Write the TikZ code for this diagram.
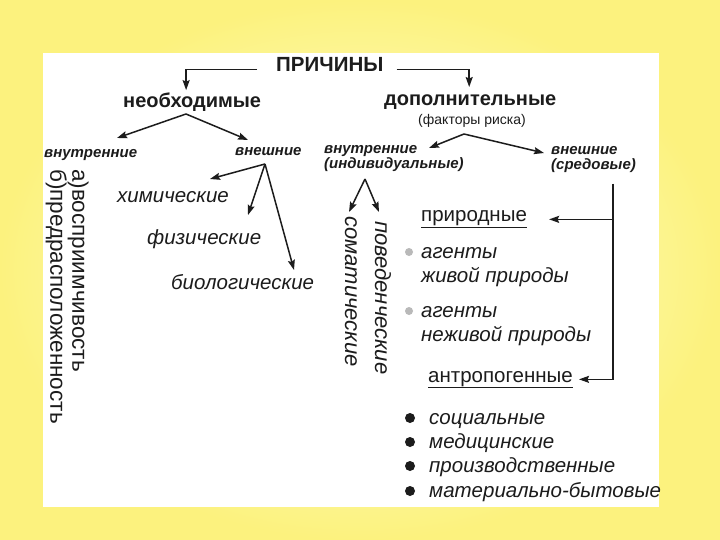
\documentclass[tikz,border=0pt]{standalone}
\usepackage{fontspec}
\setmainfont{Liberation Sans}
\usetikzlibrary{arrows.meta, positioning, calc}
\definecolor{inkdark}{HTML}{1C1C1C}
\definecolor{dotgrey}{HTML}{B9B9B9}
\definecolor{glowin}{HTML}{FFFFE2}
\definecolor{glowout}{HTML}{FCF27E}

\tikzset{
  lbl/.style={inner sep=0pt, text=inkdark, anchor=base west},
  head/.style={lbl, font=\bfseries\fontsize{20}{24}\selectfont},
  tag/.style={lbl, font=\bfseries\itshape\fontsize{15}{15}\selectfont, align=left},
  kind/.style={lbl, font=\itshape\fontsize{20.5}{24}\selectfont},
  plain/.style={lbl, font=\fontsize{20.5}{24}\selectfont},
  side/.style={lbl, rotate=-90, font=\fontsize{22.5}{20}\selectfont},
  dotg/.style={circle, fill=dotgrey, inner sep=0pt, minimum size=8pt},
  dotb/.style={circle, fill=inkdark, inner sep=0pt, minimum size=10pt},
  arr/.style={draw=inkdark, line width=1.5pt, -{Stealth[length=10pt,width=7pt,inset=1.5pt]}},
}

\begin{document}
\begin{tikzpicture}[x=1pt, y=-1pt]
  \useasboundingbox (0,0) rectangle (720,540);
  \shade[inner color=glowin, outer color=glowout] (0,0) rectangle (720,540);
  \fill[white] (43,53) rectangle (659,507);

  % top level
  \node[head, font=\bfseries\fontsize{20.5}{24}\selectfont] (causes) at (276,72) {ПРИЧИНЫ};
  \node[head] (need) at (123,108) {необходимые};
  \node[head] (extra) at (384,106) {дополнительные};
  \node[lbl, anchor=base, font=\fontsize{14}{16}\selectfont] (risk) at (472,125) {(факторы риска)};

  \node[tag] (needin) at (44,158) {внутренние};
  \node[tag] (needout) at (235,156) {внешние};
  \node[tag, anchor=north west] (extrain) at (324,145) {внутренние\\(индивидуальные)};
  \node[tag, anchor=north west] (extraout) at (551,146) {внешние\\(средовые)};

  % left branch
  \node[kind] (chem) at (117,203) {химические};
  \node[kind] (phys) at (147,244) {физические};
  \node[kind] (bio) at (171,289) {биологические};
  \node[side, anchor=north west, align=left] (innate) at (89,169) {а)восприимчивость\\б)предрасположенность};

  % right branch
  \node[side, font=\itshape\fontsize{22}{20}\selectfont] (soma) at (345,216) {соматические};
  \node[side, font=\itshape\fontsize{22}{20}\selectfont] (behav) at (375,221) {поведенческие};
  \node[plain] (natural) at (421,222) {\underline{природные}};
  \node[plain] (anthro) at (428,382) {\underline{антропогенные}};

  \foreach \y/\txt [count=\i] in {247/живой природы, 306/неживой природы}{%
    \node[dotg] (agdot\i) at (409,\y+5) {};
    \node[kind, anchor=north west, align=left] (agent\i) at (421,\y) {агенты\\\txt};}

  \foreach \y/\txt [count=\i] in {418/социальные, 442/медицинские,
                                  466/производственные, 491/материально-бытовые}{%
    \node[dotb] (hdot\i) at (410,\y) {};
    \node[kind] (human\i) at (429,\y+6) {\txt};}

  % connectors
  \draw[arr] ([xshift=-19pt]causes.mid west) -| ([xshift=-6pt,yshift=3pt]need.north);
  \draw[arr] ([xshift=13pt]causes.mid east) -| ([xshift=-1pt,yshift=8pt]extra.north);

  \coordinate (needfork) at (186,114);
  \coordinate (extrafork) at (464,134);
  \coordinate (outfork) at (265,164);
  \coordinate (infork) at (365,179);
  \coordinate (bus) at (613,184);

  \foreach \name/\from/\x/\y in {needin/needfork/117/138, needout/needfork/248/140,
      extrain/extrafork/429/148, extraout/extrafork/544/153,
      chem/outfork/210/179, phys/outfork/248/215, bio/outfork/294/270,
      soma/infork/349/212, behav/infork/379/212}{%
    \coordinate (\name tip) at (\x,\y);
    \draw[arr] (\from) -- (\name tip);}

  \draw[arr, shorten >=22pt] (bus) |- (natural.mid east);
  \draw[arr, shorten >=6pt] (bus) |- (anthro.mid east);
\end{tikzpicture}
\end{document}
